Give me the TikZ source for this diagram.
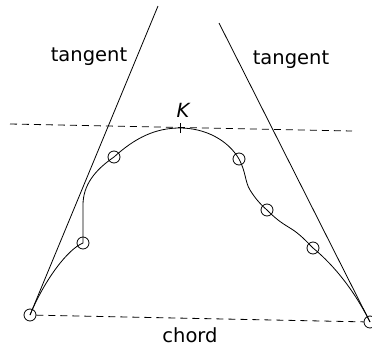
\documentclass[tikz,border=0pt]{standalone}
\usepackage{fontspec}
\setmainfont{DejaVu Sans}
\begin{document}
\begin{tikzpicture}[x=1bp,y=-1bp,line width=0.8bp,
  pt/.style={circle,draw,minimum size=12bp,inner sep=0pt},
  lbl/.style={font=\fontsize{19.5bp}{22bp}\selectfont,inner sep=0pt,anchor=base},
  dsh/.style={dash pattern=on 7bp off 5bp}]
\useasboundingbox (0,0) rectangle (372,347);
% points
\node[pt] (p0) at (30,315) {};
\node[pt] (p1) at (83,243) {};
\node[pt] (p2) at (114,157) {};
\coordinate (k) at (180,128);
\node[pt] (p3) at (239,159) {};
\node[pt] (p4) at (267,210) {};
\node[pt] (p5) at (313,248) {};
\node[pt] (p6) at (370,322) {};
\coordinate (lt) at (158,6);
\coordinate (rt) at (219,23);
\coordinate (dl) at (10,124);
\coordinate (dr) at (352,131);
% tangents
\draw (p0.center) -- (lt);
\draw (rt) -- (p6.center);
% dashed lines
\draw[dsh] (dl) -- (dr);
\draw[dsh] (p0) -- (p6);
% curve
\draw (p0.center) .. controls (45,279) and (68,249) .. (p1.center)
  -- (83,205) .. controls (83,185) and (95,170) .. (p2.center)
  .. controls (135,138) and (155,128) .. (k)
  .. controls (205,128) and (228,140) .. (p3.center)
  .. controls (246,172) and (245,182) .. (250,190)
  .. controls (255,198) and (260,204) .. (p4.center)
  .. controls (275,218) and (280,222) .. (290,228)
  .. controls (300,234) and (307,242) .. (p5.center)
  .. controls (335,266) and (355,292) .. (p6.center);
% K tick
\draw ([yshift=-5bp]k) -- ([yshift=5bp]k);
% labels
\node[lbl] (tl) at (89,61) {tangent};
\node[lbl] (tr) at (291,64) {tangent};
\node[lbl,font=\fontsize{19.5bp}{22bp}\selectfont\itshape] (kl) at (183,117) {K};
\node[lbl] (ch) at (190,342) {chord};
\end{tikzpicture}
\end{document}
